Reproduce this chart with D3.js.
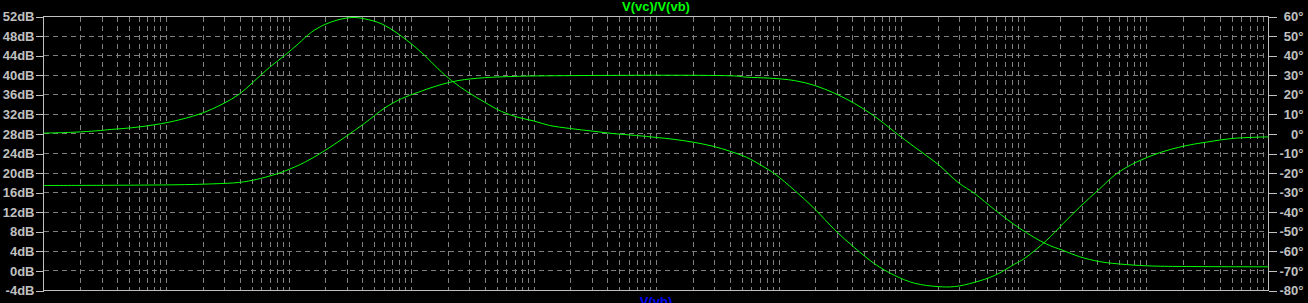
<!DOCTYPE html>
<html>
<head>
<meta charset="utf-8">
<script src="https://cdn.jsdelivr.net/npm/d3@7"></script>
<style>
  html, body { margin: 0; padding: 0; background: #000; overflow: hidden; }
  svg { display: block; }
  .axis text { font-family: "Liberation Sans", Arial, sans-serif; font-weight: bold; font-size: 13px; fill: #c0c0c0; }
  .axis line { stroke: #c0c0c0; }
  .axis path { display: none; }
</style>
</head>
<body>
<div id="bode"></div>
<script>
// frequency points (Hz) and values
let magFreq = [1, 11.4, 24.2, 40, 54.7, 74.7, 93.1, 135.6, 198, 287.6, 419, 610, 835, 1141, 1662, 2420,
    3996, 7022, 10090, 439000, 547000, 848000, 1.356e6, 1.975e6, 2.876e6, 4.19e6, 6.1e6, 8.88e6,
    1.293e7, 2.005e7, 2.92e7, 4.0e7, 5.82e7, 9.31e7, 1.538e8, 2.1e8, 2.876e8, 4.19e8, 6.92e8,
    1.141e9, 2.137e9, 1e10];
let magDb = [17.46, 17.6, 17.8, 18.1, 18.7, 19.6, 20.4, 22.2, 24.6, 27.3, 30.2, 33.3, 35.2, 36.5, 37.9, 38.9,
    39.5, 39.75, 39.85, 39.85, 39.6, 39.4, 38.9, 37.9, 36.3, 34.2, 31.6, 28.4,
    25.3, 21.8, 18.1, 15.8, 12.5, 8.7, 5.5, 4.2, 2.9, 1.9, 1.3,
    1.0, 0.9, 0.84];

let phFreq = [1, 1.8, 2.73, 3.58, 4.54, 6.1, 8.09, 10, 13.8, 19.7, 29.2, 40, 51.3, 70.2, 93.1, 120, 154, 198,
    254, 336, 419, 573, 783, 1008, 1294, 1662, 2137, 2920, 3996, 5470, 7470, 10090, 13560, 19750,
    30600, 44570, 69180, 100800, 137600, 200500, 292000, 399600, 547000, 747000, 931000, 1.356e6,
    1.975e6, 2.876e6, 4.19e6, 6.1e6, 8.88e6, 1.293e7, 2.005e7, 2.744e7, 4.0e7, 5.82e7, 8.48e7,
    1.009e8, 1.538e8, 2.1e8, 2.876e8, 4.19e8, 5.73e8, 8.35e8, 1.293e9, 2.005e9, 3.11e9, 5.13e9, 1e10];
let phDeg = [0.4, 0.9, 1.6, 2.3, 2.8, 3.6, 4.7, 5.7, 7.7, 10.6, 15.4, 20.5, 26.4, 34.1, 40.1, 46.0, 52.0, 55.9,
    58.3, 59.5, 58.8, 56.3, 51.2, 46.0, 40.1, 33.3, 27.3, 21.3, 16.2, 11.5, 8.5, 6.6, 4.3, 2.8,
    1.4, 0.2, -0.8, -1.8, -2.7, -4.2, -6.3, -8.8, -11.9, -16.6, -20.4, -28.9,
    -38.3, -49.0, -58.2, -66.4, -72.3, -76.3, -78.0, -78.0, -75.8, -72.3, -66.5,
    -63.8, -54.5, -45.9, -37.4, -28.0, -20.4, -14.4, -9.6, -6.3, -4.2, -2.3, -1.5];

let dbTicks = d3.range(-4, 53, 4);
let degTicks = d3.range(-80, 61, 10);

let width = 1308;
let height = 303;
let plotL = 43.5, plotR = 1268.5, plotT = 16.5, plotB = 290.5;

let x = d3.scaleLog().domain([1, 1e10]).range([plotL, plotR]);
let yDb = d3.scaleLinear().domain([-4, 52]).range([plotB, plotT]);
let yPh = d3.scaleLinear().domain([-80, 60]).range([plotB, plotT]);

let svg = d3.select("#bode")
    .append("svg")
    .attr("width", width)
    .attr("height", height);

// log grid: 1..9 in every decade
let xGrid = [];
for (let k = 0; k < 10; k++) {
    for (let m = 1; m < 10; m++) {
        let f = m * Math.pow(10, k);
        if (f > 1 && f < 1e10) xGrid.push(f);
    }
}

svg.append("g").selectAll("line")
    .data(xGrid)
    .enter().append("line")
    .attr("x1", d => Math.round(x(d)) + 0.5)
    .attr("x2", d => Math.round(x(d)) + 0.5)
    .attr("y1", plotT)
    .attr("y2", plotB)
    .attr("stroke", "#808080")
    .attr("stroke-dasharray", "5,4")
    .attr("shape-rendering", "crispEdges");

svg.append("g").selectAll("line")
    .data(dbTicks.slice(1, -1))
    .enter().append("line")
    .attr("x1", plotL)
    .attr("x2", plotR)
    .attr("y1", d => Math.round(yDb(d) - 0.5) + 0.5)
    .attr("y2", d => Math.round(yDb(d) - 0.5) + 0.5)
    .attr("stroke", "#808080")
    .attr("stroke-dasharray", "5,4")
    .attr("shape-rendering", "crispEdges");

// frame
svg.append("rect")
    .attr("x", plotL)
    .attr("y", plotT)
    .attr("width", plotR - plotL)
    .attr("height", plotB - plotT)
    .attr("fill", "none")
    .attr("stroke", "#c0c0c0")
    .attr("shape-rendering", "crispEdges");

let axL = svg.append("g")
    .attr("class", "axis")
    .attr("transform", "translate(" + plotL + ",0)")
    .call(d3.axisLeft(yDb).tickValues(dbTicks).tickSize(8).tickPadding(1).tickFormat(d => d + "dB"));

let axR = svg.append("g")
    .attr("class", "axis")
    .attr("transform", "translate(" + plotR + ",0)")
    .call(d3.axisRight(yPh).tickValues(degTicks).tickSize(8).tickFormat(d => d + "°"));
axR.selectAll("text")
    .attr("text-anchor", "end")
    .attr("x", 35);
svg.selectAll(".axis line").attr("shape-rendering", "crispEdges");

let magLine = d3.line()
    .x(d => x(d[0]))
    .y(d => yDb(d[1]))
    .curve(d3.curveCatmullRom.alpha(0.5));

let phLine = d3.line()
    .x(d => x(d[0]))
    .y(d => yPh(d[1]))
    .curve(d3.curveCatmullRom.alpha(0.5));

svg.append("path")
    .datum(d3.zip(magFreq, magDb))
    .attr("d", magLine)
    .attr("fill", "none")
    .attr("stroke", "#00ff00")
    .attr("stroke-width", 1);

svg.append("path")
    .datum(d3.zip(phFreq, phDeg))
    .attr("d", phLine)
    .attr("fill", "none")
    .attr("stroke", "#00ff00")
    .attr("stroke-width", 1);

svg.append("text")
    .attr("x", (plotL + plotR) / 2)
    .attr("y", 11)
    .attr("text-anchor", "middle")
    .style("font-family", "Liberation Sans, Arial, sans-serif")
    .style("font-weight", "bold")
    .style("font-size", "13px")
    .style("fill", "#00ff00")
    .text("V(vc)/V(vb)");

// x-axis trace name, cut off by the bottom edge as in the original
svg.append("text")
    .attr("x", (plotL + plotR) / 2)
    .attr("y", 306)
    .attr("text-anchor", "middle")
    .style("font-family", "Liberation Sans, Arial, sans-serif")
    .style("font-weight", "bold")
    .style("font-size", "13px")
    .style("fill", "#0000ff")
    .text("V(vb)");
</script>
</body>
</html>
